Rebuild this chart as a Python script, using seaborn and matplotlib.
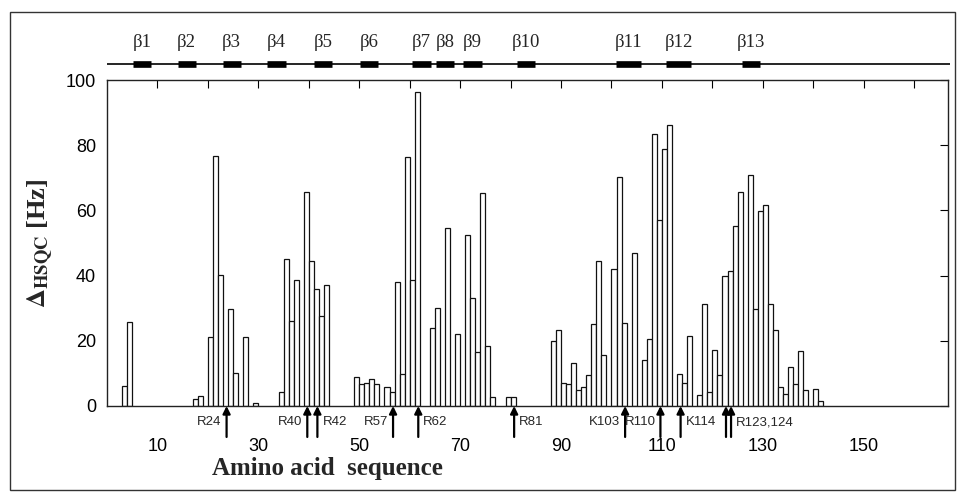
import numpy as np
import pandas as pd
import matplotlib
matplotlib.use("Agg")
import matplotlib.pyplot as plt
import seaborn as sns
from matplotlib.patches import Rectangle

# residue number and HSQC shift difference (Hz)
residues = [3, 4, 17, 18, 20, 21, 22, 24, 25, 27, 29,
            34, 35, 36, 37, 39, 40, 41, 42, 43,
            49, 50, 51, 52, 53, 55, 56, 57, 58, 59, 60, 61,
            64, 65, 67, 69, 71, 72, 73, 74, 75, 76, 79, 80,
            88, 89, 90, 91, 92, 93, 94, 95, 96, 97, 98,
            100, 101, 102, 104, 106, 107, 108, 109, 110, 111,
            113, 114, 115, 117, 118, 119, 120, 121, 122, 123, 124, 125,
            127, 128, 129, 130, 131, 132, 133, 134, 135, 136, 137, 138,
            140, 141]
delta_hz = [6.1, 25.8, 2.2, 3.0, 21.2, 76.6, 40.1, 29.7, 10.2, 21.2, 1.0,
            4.3, 45.0, 26.1, 38.8, 65.6, 44.5, 36.0, 27.5, 37.2,
            8.9, 6.9, 7.2, 8.2, 6.9, 5.8, 4.3, 38.0, 9.9, 76.4, 38.8, 96.3,
            23.9, 30.1, 54.7, 22.2, 52.6, 33.2, 16.5, 65.3, 18.3, 2.8, 2.8, 2.8,
            19.8, 23.4, 7.1, 6.6, 13.2, 5.0, 5.7, 9.5, 25.3, 44.4, 15.7,
            41.9, 70.2, 25.6, 46.9, 14.2, 20.4, 83.3, 57.0, 78.9, 86.3,
            9.7, 7.2, 21.4, 3.3, 31.4, 4.2, 17.3, 9.4, 40.0, 41.4, 55.3, 65.8,
            70.8, 29.7, 59.8, 61.8, 31.4, 23.2, 5.9, 3.6, 11.9, 6.9, 16.8, 4.8,
            5.2, 1.5]

# beta strands (residue ranges)
beta_labels = ["β1", "β2", "β3", "β4", "β5", "β6", "β7", "β8", "β9",
               "β10", "β11", "β12", "β13"]
beta_start = [5.2, 14.0, 22.9, 31.8, 41.0, 50.2, 60.5, 65.2, 70.5, 81.3, 100.8, 110.8, 125.9]
beta_end = [8.7, 17.6, 26.5, 35.4, 44.6, 53.8, 64.2, 68.8, 74.3, 84.9, 105.9, 115.8, 129.5]

# basic residues marked with arrows
arrow_res = [24, 40, 42, 57, 62, 81, 103, 110, 114, 123, 124]
arrow_text = ["R24", "R40", "R42", "R57", "R62", "R81", "K103", "R110", "K114", "", "R123,124"]
arrow_side = ["left", "left", "right", "left", "right", "right", "left", "left", "right", "right", "right"]

xticks = list(range(10, 170, 10))
xtick_labels = [str(t) if t % 20 == 10 else "" for t in xticks]
yticks = [0, 20, 40, 60, 80, 100]

sns.set_style("white")
plt.rcParams["font.family"] = ["Liberation Sans", "DejaVu Sans"]
plt.rcParams["mathtext.fontset"] = "stix"
serif = ["Liberation Serif", "DejaVu Serif"]

df = pd.DataFrame({"residue": residues, "delta": delta_hz})
df["pos"] = df["residue"] + 0.5  # bars occupy [r, r+1)

fig = plt.figure(figsize=(9.59, 4.97), dpi=100)
ax = fig.add_axes([0.1116, 0.1831, 0.8769, 0.6559])
sns.barplot(data=df, x="pos", y="delta", native_scale=True, width=1.0,
            color="white", edgecolor="#111111", linewidth=0.9,
            errorbar=None, ax=ax)
xmax = 166.7
ax.set_xlim(0, xmax)
ax.set_ylim(0, 100)
ax.set_xlabel("")
ax.set_ylabel("")
ax.set_xticks(xticks)
ax.set_xticklabels(xtick_labels)
ax.set_yticks(yticks)
ax.tick_params(direction="in", top=True, right=True, length=6, width=0.8,
               labelsize=13, colors="black")
ax.tick_params(axis="x", pad=23)
ax.tick_params(axis="y", pad=8)
for sp in ax.spines.values():
    sp.set_visible(True)
    sp.set_linewidth(1.0)
    sp.set_color("#222222")

# arrows under the axis
for r, t, s in zip(arrow_res, arrow_text, arrow_side):
    x = r - 0.3
    ax.annotate("", xy=(x, 0), xytext=(x, -9.5), annotation_clip=False,
                arrowprops=dict(arrowstyle="-|>", color="black", lw=1.6,
                                mutation_scale=11, shrinkA=0, shrinkB=0))
    if t:
        if s == "left":
            ax.text(x - 1.0, -5.0, t, ha="right", va="center", fontsize=9.5, clip_on=False)
        else:
            ax.text(x + 1.0, -5.0, t, ha="left", va="center", fontsize=9.5, clip_on=False)

# secondary structure strip
ss = fig.add_axes([0.1116, 0.849, 0.8769, 0.1006])
ss.set_xlim(0, xmax)
ss.set_ylim(0, 1)
ss.axis("off")
ss.hlines(0.23, 0, xmax + 0.4, color="black", lw=1.2, clip_on=False)
ss.hlines([0.23] * len(beta_start), beta_start, beta_end, color="black", lw=4.8)
for lab, s, e in zip(beta_labels, beta_start, beta_end):
    ss.text((s + e) / 2, 0.66, lab, ha="center", va="center", fontsize=13.5, family=serif)

fig.text(327 / 959, 1 - 468 / 497, "Amino acid  sequence", ha="center", va="center",
         fontsize=18, fontweight="bold", family=serif)
fig.text(40 / 959, 1 - 243 / 497, r"$\mathbf{\Delta}_{\mathbf{HSQC}}$ [Hz]", rotation=90,
         ha="center", va="center", fontsize=19, fontweight="bold", family=serif)

fig.patches.append(Rectangle((0.0104, 0.0141), 0.9854, 0.9618, transform=fig.transFigure,
                             fill=False, edgecolor="#333333", lw=1.0))

fig.savefig("out.png", dpi=100)
